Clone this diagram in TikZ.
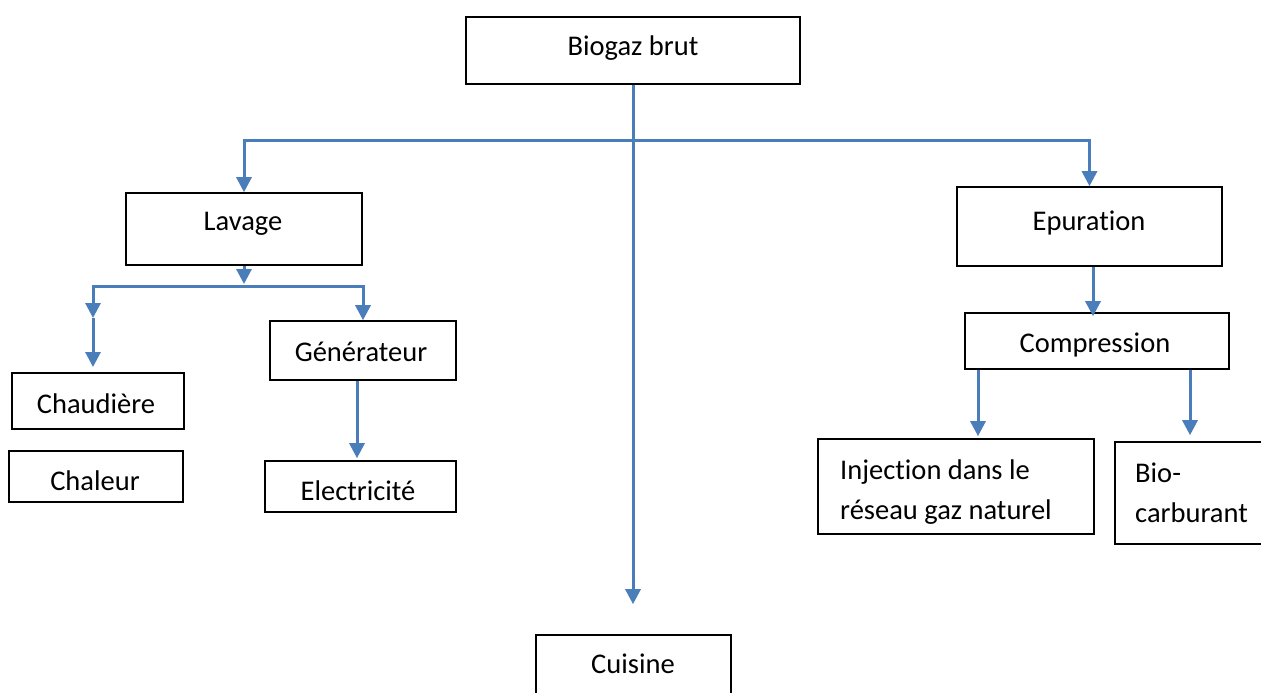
\documentclass[tikz,border=0pt]{standalone}
\usepackage{fontspec}
\setmainfont{Carlito}[Ligatures=NoCommon]
\usetikzlibrary{arrows.meta}
\definecolor{conn}{RGB}{74,126,187}
\begin{document}
\begin{tikzpicture}[x=1pt,y=-1pt,
 box/.style={draw=black, line width=1.6pt, rectangle, inner sep=0pt},
 lbl/.style={inner sep=0pt, font=\fontsize{28.5}{40}\selectfont},
 line/.style={draw=conn, line width=3pt},
 arr/.style={line, -{Triangle[width=15pt,length=15pt]}},
]
\useasboundingbox (0,0) rectangle (1261,693);
\fill[white] (0,0) rectangle (1261,693);

% boxes
\node[box, minimum width=334pt, minimum height=67pt] (bio) at (633,50.5) {};
\node[box, minimum width=236pt, minimum height=72pt] (lav) at (244,229) {};
\node[box, minimum width=265pt, minimum height=79pt] (epu) at (1089.5,226.5) {};
\node[box, minimum width=264pt, minimum height=56pt] (comp) at (1097,341) {};
\node[box, minimum width=186pt, minimum height=59pt] (gen) at (363,350.5) {};
\node[box, minimum width=172pt, minimum height=56pt] (chau) at (98,401) {};
\node[box, minimum width=174pt, minimum height=51pt] (chal) at (96,476.5) {};
\node[box, minimum width=191pt, minimum height=51pt] (elec) at (360.5,486.5) {};
\node[box, minimum width=276pt, minimum height=95pt] (inj) at (956,486.5) {};
\node[box, minimum width=175pt, minimum height=102pt] (biocar) at (1202.5,493) {};
\node[box, minimum width=195pt, minimum height=85pt] (cuis) at (633.5,677.5) {};

% labels
\node[lbl, anchor=base] (biot) at (633,56) {Biogaz brut};
\node[lbl, anchor=base] (lavt) at (243,230) {Lavage};
\node[lbl, anchor=base] (eput) at (1089,230) {Epuration};
\node[lbl, anchor=base] (compt) at (1095,352) {Compression};
\node[lbl, anchor=base] (gent) at (361,361) {Générateur};
\node[lbl, anchor=base] (chaut) at (96,413) {Chaudière};
\node[lbl, anchor=base] (chalt) at (95,490) {Chaleur};
\node[lbl, anchor=base] (elect) at (358,500) {Electricité};
\node[lbl, anchor=base] (cuist) at (633,673) {Cuisine};
\node[lbl, anchor=base west, align=left] (injt) at (840,519) {Injection dans le\\réseau gaz naturel};
\node[lbl, anchor=base west, align=left] (biocart) at (1135,522) {Bio-\\carburant};

% connectors
\coordinate (j1) at (633,140);
\draw[arr, shorten >=30pt] (bio.south) -- (bio.south |- cuis.north);
\draw[arr] (j1) -| (lav.north);
\draw[arr] (j1) -| (epu.north);

\coordinate (j2) at (244,286);
\coordinate (m1) at (93,318);
\coordinate (m2) at (93,367);
\draw[arr, shorten >=2pt] (lav.south) -- (j2);
\draw[arr] (j2) -| (m1);
\draw[arr] (m1) -- (m2);
\draw[arr] (j2) -| (gen.north);

\coordinate (g1) at ([xshift=-6pt]gen.south);
\draw[arr, shorten >=2pt] (g1) -- (g1 |- elec.north);

\coordinate (e1) at ([xshift=3.5pt]epu.south);
\draw[arr, shorten >=-4pt] (e1) -- (e1 |- comp.north);

\coordinate (ca) at ([xshift=-119pt]comp.south);
\draw[arr, shorten >=2pt] (ca) -- (ca |- inj.north);
\coordinate (cb) at ([xshift=93pt]comp.south);
\draw[arr, shorten >=6pt] (cb) -- (cb |- biocar.north);
\end{tikzpicture}
\end{document}
